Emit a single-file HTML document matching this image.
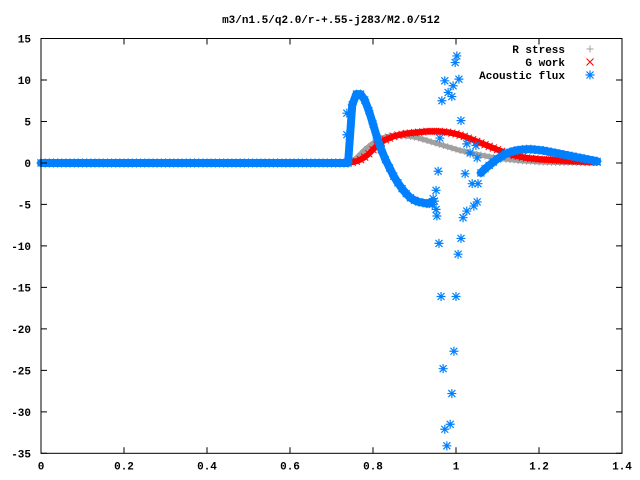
<!DOCTYPE html>
<html><head><meta charset="utf-8"><style>
html,body{margin:0;padding:0;background:#fff}
svg{display:block}
text{font-family:"Liberation Mono","DejaVu Sans Mono",monospace;font-weight:bold;font-size:11px;fill:#000}
</style></head><body>
<svg id="chart" width="640" height="480" viewBox="0 0 640 480" xmlns="http://www.w3.org/2000/svg">
<text x="331" y="23" text-anchor="middle">m3/n1.5/q2.0/r-+.55-j283/M2.0/512</text>
<g id="marks"></g>
<g id="axes"></g>
<g>
<text x="565" y="53" text-anchor="end">R stress</text>
<text x="565" y="66" text-anchor="end">G work</text>
<text x="565" y="79" text-anchor="end">Acoustic flux</text>
</g>
</svg>
<script>
const xTicks = [0, 0.2, 0.4, 0.6, 0.8, 1, 1.2, 1.4];
const xTickLabels = ["0", "0.2", "0.4", "0.6", "0.8", "1", "1.2", "1.4"];
const yTicks = [15, 10, 5, 0, -5, -10, -15, -20, -25, -30, -35];
const yTickLabels = ["15", "10", "5", "0", "-5", "-10", "-15", "-20", "-25", "-30", "-35"];
const seriesNames = ["R stress", "G work", "Acoustic flux"];
// flat region sampled every 0.01 from x=0 to 0.73 (all zero)
const flatValues = [0,0,0,0,0,0,0,0,0,0,0,0,0,0,0,0,0,0,0,0,0,0,0,0,0,0,0,0,0,0,0,0,0,0,0,0,0,0,0,0,0,0,0,0,0,0,0,0,0,0,0,0,0,0,0,0,0,0,0,0,0,0,0,0,0,0,0,0,0,0,0,0,0,0];
// active region sampled every 0.01 starting at x=0.74
const activeStart = 0.74;
const rStress = [0,0.2,0.6,1.1,1.6,2.0,2.4,2.7,2.95,3.15,3.25,3.3,3.3,3.3,3.25,3.2,3.1,3.0,2.85,2.7,2.55,2.4,2.25,2.1,1.95,1.8,1.65,1.5,1.4,1.25,1.15,1.05,0.95,0.85,0.75,0.65,0.6,0.5,0.45,0.4,0.35,0.3,0.25,0.2,0.2,0.15,0.12,0.1,0.08,0.07,0.06,0.05,0.05,0.05,0.05,0.05,0.05,0.05,0.05,0.05,0.05];
const gWork = [0,0.1,0.2,0.4,0.7,1.1,1.6,2.1,2.5,2.8,3.0,3.2,3.35,3.45,3.55,3.6,3.65,3.7,3.75,3.8,3.8,3.8,3.8,3.75,3.7,3.6,3.5,3.35,3.2,3.0,2.8,2.6,2.4,2.2,2.0,1.8,1.6,1.4,1.2,1.05,0.9,0.8,0.7,0.6,0.55,0.5,0.45,0.42,0.4,0.37,0.34,0.31,0.28,0.25,0.22,0.2,0.17,0.15,0.12,0.1,0.08];
const acousticFlux = [0,7.0,8.3,8.3,7.6,6.3,4.7,3.0,1.6,0.4,-0.6,-1.6,-2.4,-3.1,-3.7,-4.2,-4.5,-4.7,-4.8,-4.9,-4.8,null,null,null,null,null,null,null,null,null,null,null,-1.2,-0.7,-0.3,0.1,0.5,0.8,1.1,1.3,1.45,1.55,1.6,1.65,1.65,1.6,1.55,1.5,1.4,1.3,1.2,1.1,1.0,0.9,0.8,0.7,0.6,0.5,0.4,0.3,0.2];
const fluxScatterX = [0.737,0.737,1.002,0.998,1.007,0.973,0.993,0.981,0.990,0.966,1.012,0.961,1.026,1.048,1.034,1.051,0.957,1.022,1.039,1.053,0.952,0.945,1.051,1.043,1.026,0.952,0.954,1.017,0.959,1.012,1.005,0.964,1.000,0.995,0.969,0.990,0.986,0.973,0.978,0.943,0.948];
const fluxScatterY = [6.0,3.4,12.9,12.1,10.1,9.9,9.3,8.5,8.0,7.5,5.1,3.0,2.3,2.1,1.2,0.6,-1.0,-1.3,-2.5,-2.5,-3.3,-4.3,-4.7,-5.2,-5.8,-5.6,-6.4,-6.6,-9.7,-9.1,-11.0,-16.1,-16.1,-22.7,-24.8,-27.8,-31.5,-32.1,-34.1,-5.0,-4.6];

const L=41,R=622,T=38.5,B=453.3;
const xMin=0,xMax=1.4,yMin=-35,yMax=15;
function sx(v){return L+(v-xMin)/(xMax-xMin)*(R-L);}
function sy(v){return B-(v-yMin)/(yMax-yMin)*(B-T);}
const NS="http://www.w3.org/2000/svg";
const marks=document.getElementById('marks');
const axes=document.getElementById('axes');
const svg=document.getElementById('chart');
function mk(tag,attrs,parent){const e=document.createElementNS(NS,tag);for(const k in attrs)e.setAttribute(k,attrs[k]);parent.appendChild(e);return e;}
function plus(g,x,y,c){return mk('path',{d:`M${x-3.5},${y}h7M${x},${y-3.5}v7`,stroke:c,'stroke-width':1,fill:'none'},g);}
function cross(g,x,y,c){return mk('path',{d:`M${x-3.5},${y-3.5}l7,7M${x-3.5},${y+3.5}l7,-7`,stroke:c,'stroke-width':1,fill:'none'},g);}
function star(g,x,y,c){return mk('path',{d:`M${x-4.5},${y}h9M${x},${y-4.5}v9M${x-3.5},${y-3.5}l7,7M${x-3.5},${y+3.5}l7,-7`,stroke:c,'stroke-width':1.2,fill:'none'},g);}
const styles=[[rStress,'#a0a0a0',plus,'r-stress',5],[gWork,'#ff0000',cross,'g-work',6],[acousticFlux,'#0080ff',star,'acoustic-flux',8]];
styles.forEach(([arr,c,fn,name,bw])=>{
  const g=mk('g',{},marks);
  
  
  // dense marker band: polyline through consecutive data points
  const segs=[];let cur=[];
  for(let i=0;i<flatValues.length;i++)cur.push([sx(i*0.01),sy(flatValues[i])]);
  for(let i=0;i<arr.length;i++){
    if(arr[i]===null){if(cur.length)segs.push(cur);cur=[];continue;}
    cur.push([sx(activeStart+i*0.01),sy(arr[i])]);
  }
  if(cur.length)segs.push(cur);
  segs.forEach(s=>{
    const pl=mk('polyline',{points:s.map(p=>p.join(',')).join(' '),fill:'none',stroke:c,'stroke-width':bw,'stroke-linejoin':'round','stroke-linecap':'round'},g);
    
    
  });
  for(let i=0;i<flatValues.length;i++){
    const m=fn(g,sx(i*0.01),sy(flatValues[i]),c);
    
    
  }
  for(let i=0;i<arr.length;i++){
    if(arr[i]===null)continue;
    const m=fn(g,sx(activeStart+i*0.01),sy(arr[i]),c);
    
    
  }
  if(name==='acoustic-flux'){
    for(let i=0;i<fluxScatterX.length;i++){
      const m=fn(g,sx(fluxScatterX[i]),sy(fluxScatterY[i]),c);
      
      
    }
  }
});
// legend markers
const lm=[[plus,'#a0a0a0',49],[cross,'#ff0000',62],[star,'#0080ff',75]];
lm.forEach(([fn,c,y],i)=>{
  const m=fn(svg,590,y,c);
  
  
});
// axes box
const box=mk('rect',{x:L,y:T,width:R-L,height:B-T,fill:'none',stroke:'#000','stroke-width':1},axes);


xTicks.forEach((v,i)=>{
  const x=sx(v);
  const t=mk('path',{d:`M${x},${B}v-6M${x},${T}v6`,stroke:'#000','stroke-width':1},axes);
  
  
  const tx=mk('text',{x:x,y:B+16,'text-anchor':'middle'},axes);
  tx.textContent=xTickLabels[i];
  
  
});
yTicks.forEach((v,i)=>{
  const y=sy(v);
  const t=mk('path',{d:`M${L},${y}h6M${R},${y}h-6`,stroke:'#000','stroke-width':1},axes);
  
  
  const tx=mk('text',{x:L-10,y:y+4,'text-anchor':'end'},axes);
  tx.textContent=yTickLabels[i];
  
  
});
</script>
</body></html>
